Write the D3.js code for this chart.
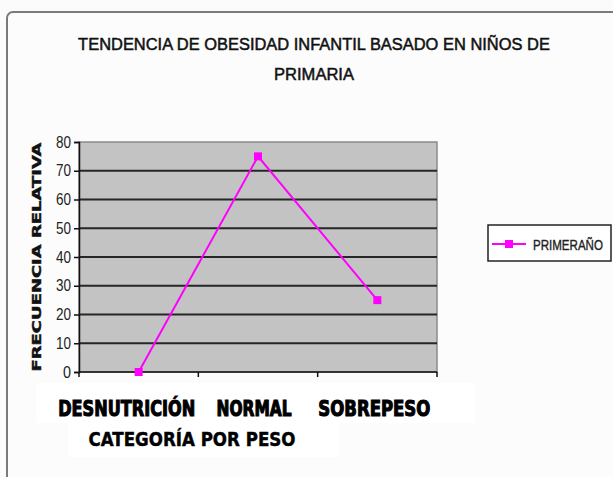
<!DOCTYPE html>
<html>
<head>
<meta charset="utf-8">
<script src="https://cdn.jsdelivr.net/npm/d3@7"></script>
<style>
  body { margin: 0; background: #fbfbfb; }
  svg { display: block; }
</style>
</head>
<body>
<script>
// data
const categories = ["DESNUTRICIÓN", "NORMAL", "SOBREPESO"];
const values = [0, 75, 25];
const seriesName = "PRIMERAÑO";
const yTicks = [0, 10, 20, 30, 40, 50, 60, 70, 80];
const titleLines = ["TENDENCIA DE OBESIDAD INFANTIL BASADO EN NIÑOS DE", "PRIMARIA"];
const yTitle = "FRECUENCIA RELATIVA";
const xTitle = "CATEGORÍA POR PESO";

const W = 613, H = 477;
const plot = { left: 79, top: 142, right: 437, bottom: 372 };

const svg = d3.select("body").append("svg")
  .attr("width", W).attr("height", H);

const val = (v, d, i) => typeof v === "function" ? v(d, i) : v;

// squeeze a text to a given width by picking its font size,
// then stretch it back up vertically so it keeps the look of `size`
function fit(sel, px, py, width, size) {
  sel.each(function(d, i) {
    const t = d3.select(this).attr("x", 0).attr("y", 0).attr("font-size", size);
    const w = this.getComputedTextLength();
    const f = size * val(width, d, i) / w;
    t.attr("font-size", f)
      .attr("transform", `translate(${val(px, d, i)},${val(py, d, i)}) scale(1,${size / f})`);
  });
}

// outer chart frame (runs off the right/bottom edge)
svg.append("rect")
  .attr("x", 7).attr("y", 12)
  .attr("width", 640).attr("height", 500)
  .attr("rx", 6)
  .attr("fill", "#fcfcfc")
  .attr("stroke", "#7a7a7a")
  .attr("stroke-width", 2);

const x = d3.scaleBand().domain(categories).range([plot.left, plot.right]);
const y = d3.scaleLinear().domain([0, 80]).range([plot.bottom, plot.top]);

// title
svg.selectAll(".title").data(titleLines).join("text")
  .attr("class", "title")
  .attr("text-anchor", "middle")
  .attr("font-family", "Liberation Sans, Arial, sans-serif")
  .attr("fill", "#111")
  .attr("stroke", "#111")
  .attr("stroke-width", 0.5)
  .text(d => d)
  .call(fit, 314, (d, i) => 50 + i * 30, (d, i) => i === 0 ? 472 : 80, 17);

// plot area
svg.append("rect")
  .attr("x", plot.left).attr("y", plot.top)
  .attr("width", plot.right - plot.left).attr("height", plot.bottom - plot.top)
  .attr("fill", "#c3c3c3")
  .attr("stroke", "#8a8a8a")
  .attr("stroke-width", 1.5);

// gridlines
svg.append("g")
  .selectAll("line").data(yTicks.filter(d => d > 0 && d < 80)).join("line")
  .attr("x1", plot.left).attr("x2", plot.right)
  .attr("y1", d => y(d)).attr("y2", d => y(d))
  .attr("stroke", "#262626")
  .attr("stroke-width", 2);

// y axis
const yAxis = svg.append("g")
  .attr("transform", `translate(${plot.left},0)`)
  .call(d3.axisLeft(y).tickValues(yTicks).tickSize(5).tickPadding(3));
yAxis.select(".domain").attr("stroke", "#111").attr("stroke-width", 1.5);
yAxis.selectAll(".tick line").attr("stroke", "#111").attr("stroke-width", 1.5);
yAxis.selectAll(".tick text")
  .attr("font-family", "Liberation Sans Narrow, Liberation Sans, Arial, sans-serif")
  .attr("font-size", 16)
  .attr("fill", "#222")
  .attr("textLength", d => d === 0 ? 8 : 15)
  .attr("lengthAdjust", "spacingAndGlyphs");

// x axis line + boundary ticks
svg.append("line")
  .attr("x1", plot.left).attr("x2", plot.right)
  .attr("y1", plot.bottom).attr("y2", plot.bottom)
  .attr("stroke", "#111").attr("stroke-width", 1.5);
const bounds = categories.map(c => x(c)).concat([x(categories[categories.length - 1]) + x.bandwidth()]);
svg.append("g").selectAll("line").data(bounds).join("line")
  .attr("x1", d => d).attr("x2", d => d)
  .attr("y1", plot.bottom).attr("y2", plot.bottom + 5)
  .attr("stroke", "#111").attr("stroke-width", 1.5);

// white patches behind the category text
svg.append("rect").attr("x", 36).attr("y", 383).attr("width", 439).attr("height", 40).attr("fill", "#ffffff");
svg.append("rect").attr("x", 68).attr("y", 423).attr("width", 270).attr("height", 34).attr("fill", "#ffffff");

// category labels
const catWidths = [137, 75, 112];
const catShift = [-12, -4, -3];
svg.selectAll(".cat").data(categories).join("text")
  .attr("class", "cat")
  .attr("text-anchor", "middle")
  .attr("font-family", "DejaVu Sans Condensed, DejaVu Sans, sans-serif")
  .attr("font-weight", "bold")
  .attr("fill", "#000")
  .attr("stroke", "#000")
  .attr("stroke-width", 0.9)
  .text(d => d)
  .call(fit, (d, i) => x(d) + x.bandwidth() / 2 + catShift[i], 416, (d, i) => catWidths[i], 22);

// x title
svg.append("text")
  .attr("text-anchor", "middle")
  .attr("font-family", "DejaVu Sans Condensed, DejaVu Sans, sans-serif")
  .attr("font-weight", "bold")
  .attr("fill", "#000")
  .attr("stroke", "#000")
  .attr("stroke-width", 0.4)
  .text(xTitle)
  .call(fit, 192, 446, 207, 19);

// y title
svg.append("text")
  .attr("transform", `translate(41,${(plot.top + plot.bottom) / 2}) rotate(-90)`)
  .attr("text-anchor", "middle")
  .attr("font-family", "DejaVu Sans, sans-serif")
  .attr("font-size", 12)
  .attr("font-weight", "bold")
  .attr("fill", "#111")
  .attr("stroke", "#111")
  .attr("stroke-width", 0.4)
  .attr("textLength", 229)
  .attr("lengthAdjust", "spacingAndGlyphs")
  .text(yTitle);

// series
const pts = categories.map((c, i) => ({ c, v: values[i] }));
svg.append("path")
  .datum(pts)
  .attr("fill", "none")
  .attr("stroke", "#ff00ff")
  .attr("stroke-width", 2)
  .attr("d", d3.line().x(d => x(d.c) + x.bandwidth() / 2).y(d => y(d.v)));
svg.selectAll(".pt").data(pts).join("rect")
  .attr("class", "pt")
  .attr("x", d => x(d.c) + x.bandwidth() / 2 - 4)
  .attr("y", d => y(d.v) - 4)
  .attr("width", 8).attr("height", 8)
  .attr("fill", "#ff00ff");

// legend
const lg = svg.append("g").attr("transform", "translate(488,225)");
lg.append("rect").attr("width", 123).attr("height", 36)
  .attr("fill", "#ffffff").attr("stroke", "#222").attr("stroke-width", 1.5);
lg.append("line").attr("x1", 4).attr("x2", 38).attr("y1", 19).attr("y2", 19)
  .attr("stroke", "#ff00ff").attr("stroke-width", 2);
lg.append("rect").attr("x", 17).attr("y", 15).attr("width", 8).attr("height", 8).attr("fill", "#ff00ff");
lg.append("text")
  .attr("font-family", "Liberation Sans, Arial, sans-serif")
  .attr("fill", "#222")
  .attr("stroke", "#222")
  .attr("stroke-width", 0.3)
  .text(seriesName)
  .call(fit, 45, 25, 70, 15);
</script>
</body>
</html>
